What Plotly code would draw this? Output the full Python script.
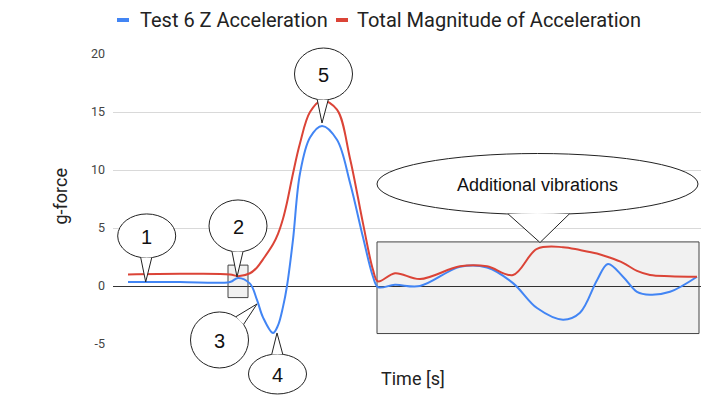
import math
import plotly.graph_objects as go

# Data (time in arbitrary units, g-force)
time = [0, 5.2, 10.2, 11.0, 12.2, 12.9, 13.5, 14.5, 15.0, 15.5, 15.9, 16.5, 17.2, 18.2, 19.4,
        20.9, 22.2, 23.5, 24.5, 25.0, 26.7, 29.2, 33.2, 35.9, 38.5, 40.9, 43.5,
        45.2, 46.9, 48.0, 49.5, 50.9, 52.2, 54.2, 56.9]
z_accel = [0.35, 0.35, 0.35, 0.7, 0.2, -1.2, -2.7, -4.05, -3.4, -1.8, 0.0, 4.0, 9.7, 12.8, 13.8,
           12.6, 8.9, 4.2, 0.8, -0.1, 0.1, 0.0, 1.65, 1.6, 0.25, -1.9, -2.9,
           -2.3, 0.5, 1.9, 0.8, -0.5, -0.75, -0.5, 0.8]
total_mag = [1.0, 1.05, 1.0, 0.85, 1.1, 1.6, 2.3, 3.6, 4.5, 5.8, 7.2, 9.7, 12.3, 15.0, 16.0,
             15.2, 11.0, 5.4, 1.4, 0.4, 1.1, 0.6, 1.7, 1.7, 0.95, 3.2, 3.35,
             3.1, 2.8, 2.5, 2.0, 1.3, 0.95, 0.85, 0.8]

series_names = ["Test 6 Z Acceleration", "Total Magnitude of Acceleration"]
series_colors = ["#4285f4", "#db4437"]

y_ticks = [-5, 0, 5, 10, 15, 20]
y_tick_text = ["-5", "0", "5", "10", "15", "20"]

# callout labels and the (time, g) point each one points at
callout_labels = ["1", "2", "3", "4", "5", "Additional vibrations"]
callout_tips = [(1.77, 0.35), (10.9, 0.78), (12.9, -1.55), (14.9, -4.05), (19.4, 14.05), (41.2, 3.75)]

# highlight boxes (t0, t1, g0, g1)
boxes = [(10.0, 12.0, -1.0, 1.8), (24.9, 57.1, -4.1, 3.8)]

X_RANGE = [-1.5, 57.3]
Y_RANGE = [-5, 20]
W, H = 701, 404
L, R, T, B = 113, 0, 54, 60
PW, PH = W - L - R, H - T - B


def to_paper(t, g):
    return ((t - X_RANGE[0]) / (X_RANGE[1] - X_RANGE[0]),
            (g - Y_RANGE[0]) / (Y_RANGE[1] - Y_RANGE[0]))


def p(x, y):
    # pixel (y down) -> paper coords
    return ((x - L) / PW, 1 - (y - T) / PH)


fig = go.Figure()

for name, vals, col in zip(series_names, [z_accel, total_mag], series_colors):
    fig.add_trace(go.Scatter(
        x=time, y=vals, mode="lines", name=name,
        line=dict(color=col, width=2, shape="spline", smoothing=1.0),
        showlegend=False,
    ))

shapes = []
annotations = []

# gray boxes, translucent so grid/zero lines show through
for t0, t1, g0, g1 in boxes:
    shapes.append(dict(type="rect", xref="x", yref="y", x0=t0, x1=t1, y0=g0, y1=g1,
                       fillcolor="rgba(0,0,0,0.055)", line=dict(color="#444", width=1),
                       layer="between"))

# bubble geometry in pixels relative to the tip: (dx, dy, rx, ry) (dy downwards)
bubble_geom = [(1, -46, 29, 22), (1, -51, 29, 26), (-37.5, 36, 29, 28),
               (0.5, 41, 29, 20), (1.5, -49, 29, 26), (-2.5, -58.5, 160.5, 30.5)]
font_sizes = [20, 20, 20, 20, 20, 18]

for lab, (tt, tg), (dx, dy, rx, ry), fs in zip(callout_labels, callout_tips, bubble_geom, font_sizes):
    px_tip, py_tip = to_paper(tt, tg)
    ax = L + px_tip * PW
    ay = T + (1 - py_tip) * PH
    cx, cy = ax + dx, ay + dy

    x0, y0 = p(cx - rx, cy - ry)
    x1, y1 = p(cx + rx, cy + ry)
    shapes.append(dict(type="circle", xref="paper", yref="paper", x0=x0, x1=x1, y0=y1, y1=y0,
                       fillcolor="white", line=dict(color="#222", width=1), layer="above"))
    phi = math.atan2((ay - cy) / ry, (ax - cx) / rx)
    d = math.radians(11)
    a = (cx + rx * math.cos(phi - d), cy + ry * math.sin(phi - d))
    b = (cx + rx * math.cos(phi + d), cy + ry * math.sin(phi + d))
    pa, pt, pb = p(*a), p(ax, ay), p(*b)
    tri = f"M {pa[0]},{pa[1]} L {pt[0]},{pt[1]} L {pb[0]},{pb[1]} Z"
    shapes.append(dict(type="path", xref="paper", yref="paper", path=tri,
                       fillcolor="white", line=dict(color="rgba(0,0,0,0)", width=0), layer="above"))
    sides = f"M {pa[0]},{pa[1]} L {pt[0]},{pt[1]} L {pb[0]},{pb[1]}"
    shapes.append(dict(type="path", xref="paper", yref="paper", path=sides,
                       fillcolor="rgba(0,0,0,0)", line=dict(color="#222", width=1), layer="above"))
    tx, ty = p(cx, cy + 1)
    annotations.append(dict(x=tx, y=ty, xref="paper", yref="paper", text=lab, showarrow=False,
                            font=dict(family="Arial", size=fs, color="#111"),
                            xanchor="center", yanchor="middle"))

# custom legend (marker start px, text start px)
legend_pos = [(117, 140), (336, 357)]
for name, col, (mx, tx) in zip(series_names, series_colors, legend_pos):
    ly = 1 - (20 - T) / PH
    shapes.append(dict(type="line", xref="paper", yref="paper",
                       x0=(mx - L) / PW, x1=(mx + 12 - L) / PW, y0=ly, y1=ly,
                       line=dict(color=col, width=4)))
    annotations.append(dict(x=(tx - 2 - L) / PW, y=ly, xref="paper", yref="paper",
                            text=name, showarrow=False, xanchor="left", yanchor="middle",
                            font=dict(family="Roboto", size=20, color="#222")))

# axis titles
annotations.append(dict(x=(47 - L) / PW, y=1 - (196 - T) / PH, xref="paper", yref="paper",
                        text="g-force", textangle=-90, showarrow=False,
                        font=dict(family="Roboto", size=18, color="#222")))
annotations.append(dict(x=(413 - L) / PW, y=1 - (391 - T) / PH, xref="paper", yref="paper",
                        text="Time [s]", showarrow=False,
                        font=dict(family="Roboto", size=18, color="#222")))

fig.update_layout(
    width=W, height=H,
    margin=dict(l=L, r=R, t=T, b=B),
    plot_bgcolor="white", paper_bgcolor="white",
    xaxis=dict(range=X_RANGE, showgrid=False, zeroline=False, showticklabels=False,
               showline=False, fixedrange=True),
    yaxis=dict(range=Y_RANGE, tickvals=y_ticks, ticktext=y_tick_text,
               showgrid=True, gridcolor="#d9d9d9", gridwidth=1,
               zeroline=True, zerolinecolor="#333", zerolinewidth=1, showline=False,
               tickfont=dict(family="Roboto", size=12.5, color="#444"), ticklabelstandoff=7,
               fixedrange=True),
    shapes=shapes,
    annotations=annotations,
    showlegend=False,
)

fig.write_html("out.html", config={"displayModeBar": False},
               post_script="document.body.style.margin='0px';")
